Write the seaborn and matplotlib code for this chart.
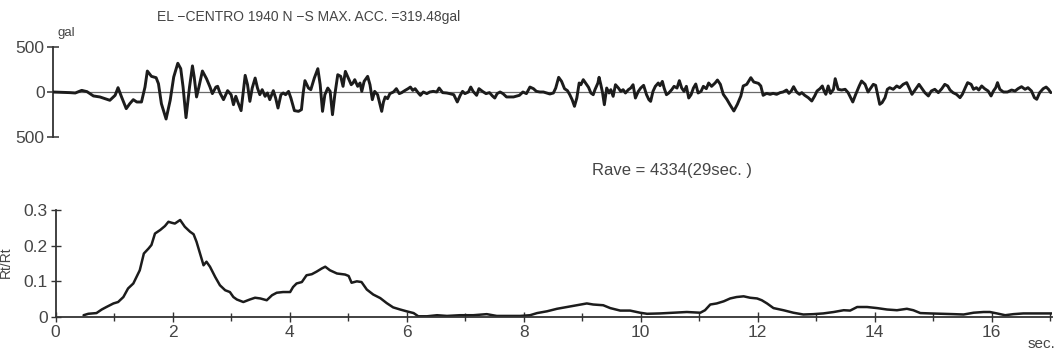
import matplotlib
matplotlib.use("Agg")
import matplotlib.pyplot as plt
import numpy as np
import pandas as pd
import seaborn as sns
from matplotlib.ticker import FixedLocator, FixedFormatter, MultipleLocator

# ---- EL-CENTRO 1940 N-S accelerogram (time in s, acceleration in gal) ----
acc_time = [
    0.00, 0.29, 0.38, 0.49, 0.58, 0.69, 0.80, 0.89, 0.97, 1.06,
    1.11, 1.17, 1.25, 1.31, 1.37, 1.43, 1.51, 1.57, 1.61, 1.68,
    1.76, 1.80, 1.85, 1.93, 2.00, 2.06, 2.13, 2.18, 2.22, 2.27,
    2.33, 2.38, 2.41, 2.45, 2.49, 2.55, 2.62, 2.68, 2.72, 2.78,
    2.81, 2.85, 2.91, 2.98, 3.04, 3.08, 3.12, 3.15, 3.21, 3.28,
    3.32, 3.36, 3.40, 3.45, 3.49, 3.53, 3.57, 3.62, 3.66, 3.70,
    3.76, 3.80, 3.84, 3.89, 3.93, 3.97, 4.02, 4.06, 4.12, 4.19,
    4.24, 4.27, 4.30, 4.36, 4.40, 4.46, 4.52, 4.56, 4.60, 4.64,
    4.69, 4.73, 4.77, 4.81, 4.86, 4.91, 4.95, 4.99, 5.04, 5.09,
    5.12, 5.15, 5.20, 5.24, 5.27, 5.31, 5.37, 5.41, 5.45, 5.49, 5.54,
    5.61, 5.64, 5.67, 5.71, 5.75, 5.81, 5.86, 5.91, 5.95, 6.01,
    6.06, 6.10, 6.14, 6.18, 6.23, 6.27, 6.32, 6.38, 6.43, 6.49,
    6.55, 6.59, 6.65, 6.72, 6.77, 6.84, 6.90, 6.95, 6.99, 7.03,
    7.09, 7.13, 7.17, 7.23, 7.27, 7.33, 7.39, 7.45, 7.50, 7.54,
    7.58, 7.63, 7.68, 7.74, 7.86, 7.96, 8.02, 8.08, 8.14, 8.20,
    8.25, 8.31, 8.37,
    8.48, 8.54, 8.58, 8.63, 8.68, 8.73, 8.78, 8.82, 8.86, 8.90,
    8.94, 8.98, 9.01, 9.05, 9.09, 9.14, 9.18, 9.22, 9.25, 9.30,
    9.32, 9.35, 9.38, 9.41, 9.45, 9.49, 9.52, 9.56, 9.60, 9.65,
    9.69, 9.73, 9.77, 9.82, 9.86, 9.90, 9.94, 9.99, 10.03, 10.08,
    10.13, 10.17, 10.20, 10.24, 10.28, 10.33, 10.36, 10.40, 10.43, 10.47,
    10.51, 10.56, 10.60, 10.65, 10.69, 10.73, 10.77, 10.81, 10.85, 10.89,
    10.93, 10.97, 11.01, 11.06, 11.10, 11.15, 11.19, 11.24, 11.30,
    11.34, 11.39, 11.44, 11.50, 11.55, 11.62, 11.68, 11.74, 11.78, 11.84,
    11.91, 11.96, 12.04, 12.08, 12.12, 12.18, 12.24, 12.29, 12.35, 12.41,
    12.46, 12.52, 12.56, 12.60, 12.64, 12.69, 12.74, 12.78, 12.83, 12.89,
    12.95, 13.00, 13.04, 13.09, 13.13, 13.16, 13.19, 13.23, 13.27, 13.32,
    13.35, 13.40, 13.46, 13.52, 13.57, 13.65, 13.70, 13.76, 13.80, 13.86,
    13.91, 13.95, 14.00, 14.04, 14.08, 14.11,
    14.15, 14.20, 14.24, 14.28, 14.34, 14.40, 14.45, 14.51, 14.57, 14.61,
    14.66, 14.72, 14.78, 14.82, 14.88, 14.94, 14.99, 15.05, 15.11, 15.17,
    15.22, 15.27, 15.31, 15.36, 15.42, 15.48, 15.52, 15.57, 15.61, 15.67,
    15.71, 15.76, 15.80, 15.85, 15.90, 15.96, 16.01, 16.05, 16.09, 16.12,
    16.16, 16.22, 16.29, 16.36, 16.42, 16.47, 16.53, 16.59, 16.64, 16.70,
    16.75, 16.79, 16.84, 16.90, 16.95, 16.99, 17.03,
]
acc_gal = [
    0, -7, -11, 18, 4, -44, -55, -74, -92, -37,
    48, -55, -185, -130, -85, -111, -111, 55, 233, 174,
    159, 92, -130, -300, -92, 166, 319.48, 259, 55, -285,
    55, 290, 166, -55, 55, 233, 148, 55, -18, 55,
    63, -11, -85, 15, -30, -141, -48, -104, -207, 185,
    81, -104, 44, 155, 44, -30, 26, -48, -11, -85,
    15, -67, -178, -30, -11, -30, 7, -67, -207, -215,
    -196, -11, 126, 44, 26, 155, 259, 81, -215, -30,
    44, 7, -252, -30, 192, 174, 63, 229, 155, 81,
    100, 137, 63, 100, 7, 118, 174, 81, -85, 7, -30,
    -215, -111, -55, -74, -18, 0, 37, -18, -7, 18,
    37, 55, 18, 37, -7, -37, 0, -18, 0, 7,
    0, 44, -7, -11, -18, -30, -111, -37, 7, -18,
    0, 55, 7, -37, 37, 7, -18, -7, -44, -67,
    -18, 0, -18, -55, -55, -37, 0, -18, 55, 37,
    7, 0, 0,
    -22, -11, 44, 163, 118, 37, 15, -30, -85, -159,
    -67, 100, 81, 137, 100, 52, -11, -30, 26, 100,
    163, 81, -11, -141, 44, -11, 26, -48, 81, 44,
    7, 26, -11, 26, 44, 81, -67, 7, 44, 74,
    -30, -85, -104, 7, 63, 100, 70, 118, 44, -30,
    -11, 26, 63, 44, 126, 44, 7, 63, -67, -30,
    44, 89, -11, 7, 63, 37, 100, 63, 100,
    133, 85, -26, -81, -137, -211, -137, -44, 67, 85,
    159, 111, 96, 67, -37, -15, -26, -15, -26, -7,
    0, 22, -15, 11, 59, 0, -26, -7, -37, -63,
    -100, -44, 11, 37, 67, 11, -26, 67, -15, 30,
    148, 30, 22, 30, -7, -111, -26, 67, 122, 85,
    0, 37, 85, 74, -44, -137,
    -118, -63, 30, 48, 30, 67, 48, 85, 104, 48,
    -26, 30, 85, 48, -7, -44, 11, 30, -7, 37,
    85, 67, 22, -7, -26, -63, -26, 48, 104, 85,
    30, 48, 22, 67, 37, 11, -44, 11, 48, 104,
    30, 0, 0, 22, 11, 37, 59, 30, 48, 11,
    -63, -81, -7, 37, 55, 30, -7,
]

# ---- response ratio Rt/Rt versus period (s) ----
ratio_time = [
    0.48, 0.56, 0.70, 0.79, 0.87, 0.99, 1.07, 1.16, 1.24, 1.33,
    1.44, 1.51, 1.59, 1.64, 1.70, 1.79, 1.87, 1.93, 1.99, 2.04,
    2.13, 2.21, 2.30, 2.36, 2.41, 2.47, 2.53, 2.58, 2.64, 2.73,
    2.81, 2.90, 2.98, 3.04, 3.10, 3.21, 3.32, 3.41, 3.50, 3.61,
    3.70, 3.78, 3.89, 4.01, 4.06, 4.12, 4.21, 4.29, 4.38, 4.46,
    4.55, 4.61, 4.69, 4.81,
    4.95, 5.01, 5.06, 5.15, 5.23, 5.32, 5.43, 5.55, 5.66, 5.77,
    5.89, 6.00, 6.12, 6.20, 6.35, 6.52, 6.69, 6.91, 7.14, 7.37,
    7.54, 7.71, 7.94, 8.11, 8.23, 8.40, 8.57, 8.74, 8.91, 9.08,
    9.19, 9.36, 9.48, 9.65, 9.82, 9.99, 10.11, 10.33, 10.56, 10.79,
    11.02, 11.10, 11.19, 11.30, 11.42, 11.53, 11.64, 11.76, 11.87, 11.99,
    12.07, 12.16, 12.27, 12.44, 12.61, 12.78, 12.95, 13.12, 13.30, 13.47,
    13.58, 13.70, 13.87, 14.04, 14.21, 14.38, 14.55, 14.66, 14.78, 14.95,
    15.18, 15.35, 15.52, 15.69, 15.86, 15.97, 16.09, 16.23, 16.37, 16.54,
    16.77, 17.03,
]
ratio_val = [
    0.005, 0.009, 0.011, 0.021, 0.028, 0.038, 0.042, 0.056, 0.080, 0.094,
    0.131, 0.178, 0.192, 0.202, 0.234, 0.244, 0.255, 0.267, 0.264, 0.262,
    0.272, 0.253, 0.239, 0.232, 0.211, 0.178, 0.145, 0.155, 0.141, 0.112,
    0.089, 0.075, 0.070, 0.056, 0.049, 0.042, 0.049, 0.054, 0.052, 0.047,
    0.061, 0.068, 0.070, 0.070, 0.084, 0.094, 0.098, 0.117, 0.120, 0.127,
    0.136, 0.141, 0.131, 0.122,
    0.119, 0.115, 0.096, 0.100, 0.098, 0.077, 0.063, 0.053, 0.039, 0.027,
    0.021, 0.016, 0.011, 0.002, 0.002, 0.005, 0.003, 0.005, 0.005, 0.008,
    0.003, 0.003, 0.003, 0.005, 0.011, 0.016, 0.023, 0.028, 0.033, 0.038,
    0.035, 0.033, 0.025, 0.018, 0.018, 0.012, 0.009, 0.010, 0.012, 0.014,
    0.012, 0.019, 0.035, 0.038, 0.044, 0.052, 0.056, 0.058, 0.054, 0.052,
    0.047, 0.038, 0.025, 0.019, 0.012, 0.007, 0.008, 0.010, 0.014, 0.019,
    0.018, 0.028, 0.028, 0.025, 0.021, 0.019, 0.023, 0.019, 0.011, 0.010,
    0.009, 0.008, 0.007, 0.012, 0.014, 0.014, 0.010, 0.005, 0.008, 0.010,
    0.010, 0.010,
]

acc_ticks = [-500, 0, 500]
acc_tick_labels = ["500", "0", "500"]
ratio_ticks = [0, 0.1, 0.2, 0.3]
ratio_tick_labels = ["0", "0.1", "0.2", "0.3"]
period_ticks = [0, 2, 4, 6, 8, 10, 12, 14, 16]

title_text = "EL \u2212CENTRO 1940 N \u2212S MAX. ACC. =319.48gal"
rave_text = "Rave = 4334(29sec. )"

acc_df = pd.DataFrame({"t": acc_time, "gal": acc_gal})
ratio_df = pd.DataFrame({"t": ratio_time, "r": ratio_val})

sns.set_theme(style="ticks")
plt.rcParams["font.family"] = ["Liberation Sans", "DejaVu Sans"]

INK = "#1c1c1c"
TXT = "#454545"
W, H = 1057, 353

fig = plt.figure(figsize=(W / 100, H / 100), dpi=100)
fig.patch.set_facecolor("white")


def px_box(x0, y0, x1, y1):
    return [x0 / W, 1 - y1 / H, (x1 - x0) / W, (y1 - y0) / H]


# upper panel: accelerogram
ax_a = fig.add_axes(px_box(53, 47, 1052, 137))
ax_a.axhline(0, color="#6a6a6a", lw=0.9, zorder=1)
sns.lineplot(data=acc_df, x="t", y="gal", ax=ax_a, color=INK, lw=2.1,
             sort=False, estimator=None, zorder=3)
ax_a.set_xlim(0, 17.05)
ax_a.set_ylim(-500, 500)
ax_a.set_xlabel("")
ax_a.set_ylabel("")
for s in ("top", "right", "bottom"):
    ax_a.spines[s].set_visible(False)
ax_a.spines["left"].set_color("#333333")
ax_a.spines["left"].set_linewidth(1.3)
ax_a.set_xticks([])
ax_a.yaxis.set_major_locator(FixedLocator(acc_ticks))
ax_a.yaxis.set_major_formatter(FixedFormatter(acc_tick_labels))
ax_a.tick_params(axis="y", direction="inout", length=8, width=1.1,
                 colors="#333333", labelcolor=TXT, labelsize=12.5, pad=2)
ax_a.patch.set_alpha(0)

# lower panel: response ratio
ax_r = fig.add_axes(px_box(55.5, 210, 1052, 317))
sns.lineplot(data=ratio_df, x="t", y="r", ax=ax_r, color=INK, lw=1.8,
             sort=False, estimator=None)
ax_r.set_xlim(0, 17.03)
ax_r.set_ylim(0, 0.3)
ax_r.set_xlabel("")
ax_r.set_ylabel("")
for s in ("top", "right"):
    ax_r.spines[s].set_visible(False)
for s in ("left", "bottom"):
    ax_r.spines[s].set_color("#333333")
    ax_r.spines[s].set_linewidth(1.3)
ax_r.xaxis.set_major_locator(FixedLocator(period_ticks))
ax_r.xaxis.set_minor_locator(MultipleLocator(1))
ax_r.yaxis.set_major_locator(FixedLocator(ratio_ticks))
ax_r.yaxis.set_major_formatter(FixedFormatter(ratio_tick_labels))
ax_r.tick_params(axis="both", which="major", direction="inout", length=7,
                 width=1.0, colors="#333333", labelcolor=TXT, labelsize=12.5,
                 pad=2)
ax_r.tick_params(axis="x", which="minor", direction="inout", length=6,
                 width=1.0, colors="#333333")
ax_r.patch.set_alpha(0)


def fig_text(x, y, s, **kw):
    fig.text(x / W, 1 - y / H, s, color=TXT, **kw)


fig_text(157, 17, title_text, fontsize=10, ha="left", va="center")
fig_text(57, 33, "gal", fontsize=9.5, ha="left", va="center")
fig_text(592, 170, rave_text, fontsize=12, ha="left", va="center")
fig_text(1028, 344, "sec.", fontsize=11, ha="left", va="center")
fig_text(6, 262, "Rt/Rt", fontsize=10, ha="center", va="center",
         rotation=90)

fig.savefig("out.png", dpi=100, facecolor="white")
